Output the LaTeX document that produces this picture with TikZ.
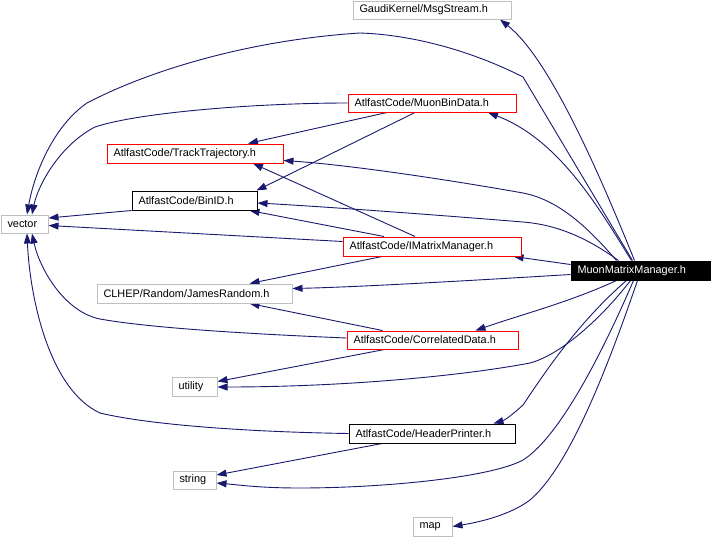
\documentclass[tikz,border=0pt]{standalone}
\usepackage{fontspec}
\setmainfont{Liberation Sans}
\usetikzlibrary{arrows.meta}
\definecolor{edgec}{RGB}{25,25,112}
\definecolor{boxgray}{RGB}{191,191,191}
\definecolor{boxred}{RGB}{255,0,0}
\pgfdeclarelayer{edgelayer}
\pgfsetlayers{edgelayer,main}
\tikzset{
  fbox/.style={draw, fill=white, line width=1pt, inner xsep=6.5pt, inner ysep=0pt,
    minimum height=19pt, align=left, font=\fontsize{10.9}{12}\selectfont},
  hshort/.style={minimum height=18pt},
  graybox/.style={fbox, draw=boxgray},
  redbox/.style={fbox, draw=boxred},
  blackbox/.style={fbox, draw=black},
  mainbox/.style={fbox, draw=black, fill=black, text=white},
  dep/.style={draw=edgec, line width=0.9pt, -{Triangle[length=10pt,width=7pt]}}
}
\begin{document}
\begin{tikzpicture}[x=1pt,y=-1pt]
\useasboundingbox (0,0) rectangle (712,538);

\node[graybox, hshort, text width=145pt] (msg) at (432,10) {GaudiKernel/MsgStream.h};
\node[redbox, hshort, text width=155pt] (mbd) at (432,103) {AtlfastCode/MuonBinData.h};
\node[redbox, text width=163pt] (tt) at (195,153.5) {AtlfastCode/TrackTrajectory.h};
\node[blackbox, text width=112pt] (binid) at (194.5,200.5) {AtlfastCode/BinID.h};
\node[graybox, hshort, text width=34pt] (vector) at (24.5,224) {vector};
\node[redbox, text width=165pt] (imm) at (432,246.5) {AtlfastCode/IMatrixManager.h};
\node[mainbox, text width=126pt] (mmm) at (640.5,270.5) {MuonMatrixManager.h};
\node[graybox, text width=182pt] (jr) at (194.5,293.5) {CLHEP/Random/JamesRandom.h};
\node[redbox, hshort, text width=158pt] (cd) at (432.5,340) {AtlfastCode/CorrelatedData.h};
\node[graybox, text width=32pt] (util) at (194.5,386.5) {utility};
\node[blackbox, text width=153pt] (hp) at (432,433.5) {AtlfastCode/HeaderPrinter.h};
\node[graybox, hshort, text width=30pt] (str) at (194.5,480) {string};
\node[graybox, text width=26pt] (map) at (432.5,526.5) {map};

\begin{pgfonlayer}{edgelayer}
\fill[white] (0,0) rectangle (712,538);
% from MuonMatrixManager.h
\draw[dep] ([xshift=-8pt]mmm.north) -- (523,77) .. controls (480,55) and (420,35) .. (360,33)
  .. controls (250,40) and (150,70) .. (87,103) .. controls (55,125) and (35,170) .. ([xshift=2.5pt]vector.north);
\draw[dep] ([xshift=-6pt]mmm.north) .. controls (590,150) and (545,55) .. ([xshift=68pt]msg.south);
\draw[dep] ([xshift=-9pt]mmm.north) .. controls (600,210) and (560,140) .. ([xshift=56pt]mbd.south);
\draw[dep] ([xshift=-24pt]mmm.north) .. controls (590,230) and (560,200) .. (523,193)
  .. controls (450,180) and (350,165) .. ([yshift=-7pt]tt.east);
\draw[dep] ([xshift=-22pt]mmm.north) .. controls (590,240) and (560,225) .. (523,222)
  .. controls (450,216) and (330,207) .. ([yshift=-2.5pt]binid.east);
\draw[dep] ([yshift=6pt]mmm.west) -- ([xshift=-8pt]imm.south east);
\draw[dep] ([yshift=-4pt]mmm.west) .. controls (480,280) and (360,287) .. ([yshift=5pt]jr.east);
\draw[dep] ([xshift=-24pt]mmm.south) .. controls (570,302) and (520,315) .. ([xshift=-43pt]cd.north east);
\draw[dep] ([xshift=-10pt]mmm.south) .. controls (600,320) and (560,355) .. (530,363)
  .. controls (450,378) and (330,387) .. ([yshift=-0.5pt]util.east);
\draw[dep] ([xshift=-14pt]mmm.south) .. controls (575,325) and (540,380) .. (523,405)
  .. controls (512,415) and (505,420) .. ([xshift=-22pt]hp.north east);
\draw[dep] ([xshift=-7pt]mmm.south) .. controls (595,370) and (555,440) .. (523,460)
  .. controls (490,478) and (380,488) .. (300,488) .. controls (260,488) and (240,485) .. ([yshift=-3pt]str.east);
\draw[dep] ([xshift=-3pt]mmm.south) .. controls (600,390) and (565,470) .. (530,500)
  .. controls (510,515) and (480,522) .. (map.east);

% other dependencies
\draw[dep] (mbd.west) .. controls (260,103) and (140,112) .. (95,127)
  .. controls (60,145) and (38,185) .. ([xshift=7.5pt]vector.north);
\draw[dep] ([xshift=-45pt]mbd.south) -- ([xshift=53pt]tt.north);
\draw[dep] ([xshift=-17pt]mbd.south) -- ([xshift=62pt]binid.north);
\draw[dep] ([xshift=-17pt]imm.north) -- ([xshift=58pt]tt.south);
\draw[dep] ([xshift=-48pt]imm.north) -- ([xshift=55pt]binid.south);
\draw[dep] (binid.south west) -- ([yshift=6pt]vector.east);
\draw[dep] ([yshift=5pt]imm.west) -- ([yshift=-1.5pt]vector.east);
\draw[dep] ([xshift=-50pt]imm.south) -- ([xshift=55pt]jr.north);
\draw[dep] ([xshift=-50pt]cd.north) -- ([xshift=55pt]jr.south);
\draw[dep] ([yshift=2pt]cd.west) .. controls (250,334) and (150,328) .. (100,319)
  .. controls (65,312) and (40,270) .. ([xshift=7.5pt]vector.south);
\draw[dep] ([xshift=-48pt]cd.south) -- ([yshift=5pt]util.east);
\draw[dep] (hp.west) .. controls (250,432) and (150,425) .. (100,413)
  .. controls (50,390) and (30,300) .. ([xshift=2.5pt]vector.south);
\draw[dep] ([xshift=-50pt]hp.south) -- ([yshift=5pt]str.east);
\end{pgfonlayer}
\end{tikzpicture}
\end{document}
